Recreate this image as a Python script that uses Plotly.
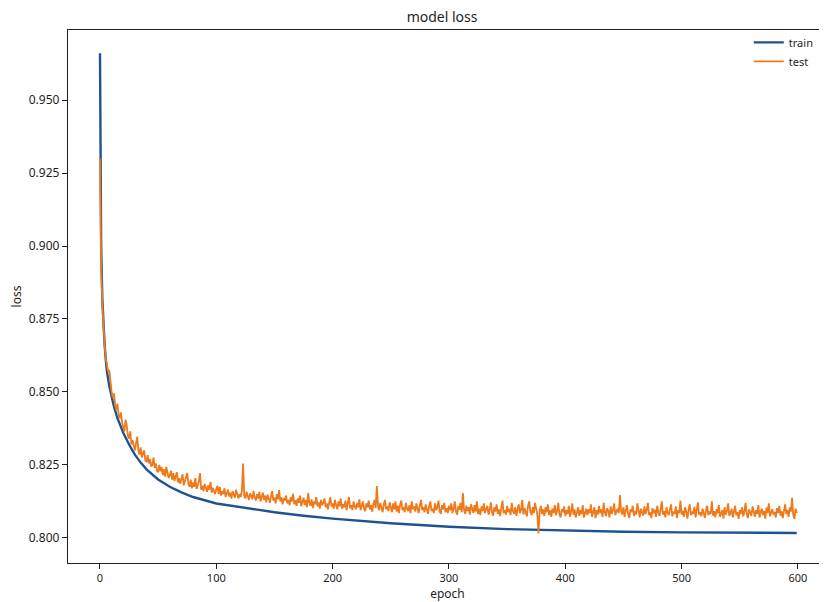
import plotly.graph_objects as go

# ---- data ----
train_epochs = [0, 1, 2, 3, 4, 5, 6, 8, 10, 12, 15, 20, 25, 30, 35, 40, 50, 60, 70, 80, 100,
                125, 150, 175, 200, 250, 300, 350, 400, 450, 500, 550, 599]
train_loss = [0.9660, 0.9000, 0.8820, 0.8720, 0.8660, 0.8610, 0.8570, 0.8520, 0.8480, 0.8450,
              0.8410, 0.8360, 0.8320, 0.8285, 0.8258, 0.8235, 0.8200, 0.8175, 0.8156, 0.8140,
              0.8118, 0.8102, 0.8088, 0.8076, 0.8066, 0.8050, 0.8038, 0.8030, 0.8025, 0.8021,
              0.8019, 0.8018, 0.8017]

test_loss = [
    0.9300, 0.8930, 0.8800, 0.8720, 0.8660, 0.8615, 0.8590, 0.8570, 0.8575, 0.8530,
    0.8500, 0.8480, 0.8495, 0.8455, 0.8440, 0.8460, 0.8420, 0.8410, 0.8430, 0.8395,
    0.8380, 0.8365, 0.8405, 0.8385, 0.8350, 0.8340, 0.8365, 0.8320, 0.8335, 0.8310,
    0.8300, 0.8325, 0.8346, 0.8300, 0.8285, 0.8310, 0.8275, 0.8290, 0.8300, 0.8265,
    0.8260, 0.8284, 0.8255, 0.8270, 0.8245, 0.8250, 0.8275, 0.8240, 0.8255, 0.8230,
    0.8225, 0.8250, 0.8228, 0.8243, 0.8215, 0.8235, 0.8210, 0.8243, 0.8220, 0.8205,
    0.8215, 0.8230, 0.8200, 0.8222, 0.8195, 0.8210, 0.8225, 0.8190, 0.8205, 0.8185,
    0.8200, 0.8218, 0.8180, 0.8195, 0.8210, 0.8222, 0.8185, 0.8175, 0.8200, 0.8170,
    0.8190, 0.8175, 0.8205, 0.8168, 0.8180, 0.8195, 0.8222, 0.8165, 0.8178, 0.8160,
    0.8185, 0.8170, 0.8158, 0.8180, 0.8165, 0.8192, 0.8155, 0.8172, 0.8160, 0.8150,
    0.8168, 0.8178, 0.8150, 0.8175, 0.8145, 0.8160, 0.8150, 0.8170, 0.8140, 0.8158,
    0.8165, 0.8142, 0.8155, 0.8135, 0.8160, 0.8148, 0.8138, 0.8165, 0.8145, 0.8135,
    0.8150, 0.8140, 0.8162, 0.8255, 0.8145, 0.8135, 0.8158, 0.8140, 0.8130, 0.8152,
    0.8145, 0.8132, 0.8160, 0.8138, 0.8128, 0.8150, 0.8135, 0.8158, 0.8125, 0.8140,
    0.8155, 0.8130, 0.8145, 0.8122, 0.8148, 0.8135, 0.8120, 0.8142, 0.8160, 0.8128,
    0.8138, 0.8118, 0.8150, 0.8132, 0.8164, 0.8125, 0.8140, 0.8115, 0.8135, 0.8128,
    0.8145, 0.8118, 0.8130, 0.8112, 0.8140, 0.8125, 0.8152, 0.8115, 0.8128, 0.8110,
    0.8135, 0.8120, 0.8145, 0.8108, 0.8125, 0.8138, 0.8112, 0.8130, 0.8105, 0.8154,
    0.8120, 0.8110, 0.8132, 0.8102, 0.8125, 0.8115, 0.8140, 0.8108, 0.8122, 0.8100,
    0.8130, 0.8112, 0.8120, 0.8135, 0.8105, 0.8118, 0.8098, 0.8125, 0.8140, 0.8108,
    0.8118, 0.8100, 0.8130, 0.8112, 0.8098, 0.8125, 0.8108, 0.8135, 0.8100, 0.8115,
    0.8105, 0.8128, 0.8095, 0.8118, 0.8140, 0.8102, 0.8112, 0.8095, 0.8125, 0.8108,
    0.8098, 0.8120, 0.8105, 0.8132, 0.8095, 0.8110, 0.8125, 0.8100, 0.8092, 0.8118,
    0.8105, 0.8128, 0.8098, 0.8112, 0.8090, 0.8115, 0.8130, 0.8102, 0.8178, 0.8110,
    0.8095, 0.8120, 0.8100, 0.8088, 0.8115, 0.8130, 0.8098, 0.8108, 0.8092, 0.8122,
    0.8105, 0.8088, 0.8118, 0.8098, 0.8125, 0.8090, 0.8110, 0.8085, 0.8115, 0.8128,
    0.8095, 0.8105, 0.8088, 0.8120, 0.8100, 0.8092, 0.8112, 0.8085, 0.8125, 0.8098,
    0.8108, 0.8090, 0.8118, 0.8100, 0.8085, 0.8112, 0.8130, 0.8095, 0.8105, 0.8088,
    0.8115, 0.8098, 0.8082, 0.8110, 0.8125, 0.8092, 0.8100, 0.8085, 0.8118, 0.8095,
    0.8105, 0.8128, 0.8090, 0.8082, 0.8112, 0.8098, 0.8120, 0.8088, 0.8102, 0.8085,
    0.8110, 0.8095, 0.8118, 0.8085, 0.8100, 0.8125, 0.8090, 0.8080, 0.8108, 0.8096,
    0.8120, 0.8088, 0.8154, 0.8095, 0.8082, 0.8110, 0.8092, 0.8105, 0.8080, 0.8115,
    0.8098, 0.8085, 0.8112, 0.8090, 0.8125, 0.8082, 0.8100, 0.8078, 0.8108, 0.8092,
    0.8118, 0.8085, 0.8098, 0.8110, 0.8080, 0.8095, 0.8122, 0.8088, 0.8076, 0.8105,
    0.8090, 0.8115, 0.8082, 0.8098, 0.8075, 0.8108, 0.8128, 0.8085, 0.8095, 0.8080,
    0.8110, 0.8088, 0.8100, 0.8078, 0.8120, 0.8092, 0.8082, 0.8105, 0.8075, 0.8098,
    0.8115, 0.8085, 0.8095, 0.8130, 0.8080, 0.8102, 0.8088, 0.8074, 0.8110, 0.8125,
    0.8090, 0.8078, 0.8105, 0.8085, 0.8120, 0.8095, 0.8080, 0.8015, 0.8092, 0.8110,
    0.8082, 0.8098, 0.8075, 0.8105, 0.8088, 0.8115, 0.8078, 0.8095, 0.8072, 0.8100,
    0.8085, 0.8112, 0.8078, 0.8092, 0.8120, 0.8080, 0.8070, 0.8098, 0.8088, 0.8108,
    0.8075, 0.8095, 0.8082, 0.8110, 0.8072, 0.8090, 0.8118, 0.8080, 0.8098, 0.8070,
    0.8088, 0.8105, 0.8076, 0.8095, 0.8082, 0.8112, 0.8070, 0.8092, 0.8100, 0.8078,
    0.8098, 0.8085, 0.8115, 0.8072, 0.8090, 0.8105, 0.8068, 0.8095, 0.8080, 0.8110,
    0.8085, 0.8098, 0.8072, 0.8120, 0.8088, 0.8075, 0.8102, 0.8092, 0.8070, 0.8108,
    0.8082, 0.8095, 0.8118, 0.8078, 0.8090, 0.8100, 0.8085, 0.8147, 0.8092, 0.8080,
    0.8105, 0.8072, 0.8095, 0.8112, 0.8082, 0.8068, 0.8098, 0.8088, 0.8110, 0.8075,
    0.8092, 0.8080, 0.8118, 0.8085, 0.8070, 0.8100, 0.8090, 0.8076, 0.8108, 0.8082,
    0.8095, 0.8120, 0.8078, 0.8088, 0.8068, 0.8102, 0.8085, 0.8096, 0.8072, 0.8110,
    0.8088, 0.8075, 0.8100, 0.8125, 0.8080, 0.8092, 0.8070, 0.8105, 0.8086, 0.8078,
    0.8098, 0.8115, 0.8074, 0.8090, 0.8082, 0.8108, 0.8068, 0.8095, 0.8085, 0.8128,
    0.8080, 0.8092, 0.8072, 0.8105, 0.8088, 0.8066, 0.8098, 0.8115, 0.8078, 0.8090,
    0.8082, 0.8106, 0.8070, 0.8094, 0.8122, 0.8080, 0.8088, 0.8074, 0.8100, 0.8085,
    0.8068, 0.8095, 0.8110, 0.8078, 0.8090, 0.8082, 0.8125, 0.8076, 0.8092, 0.8070,
    0.8098, 0.8084, 0.8112, 0.8072, 0.8088, 0.8095, 0.8066, 0.8105, 0.8080, 0.8092,
    0.8118, 0.8075, 0.8086, 0.8100, 0.8070, 0.8092, 0.8110, 0.8078, 0.8088, 0.8065,
    0.8095, 0.8082, 0.8105, 0.8074, 0.8090, 0.8120, 0.8080, 0.8068, 0.8098, 0.8086,
    0.8075, 0.8108, 0.8090, 0.8072, 0.8095, 0.8082, 0.8112, 0.8070, 0.8088, 0.8100,
    0.8078, 0.8092, 0.8066, 0.8104, 0.8085, 0.8118, 0.8074, 0.8090, 0.8098, 0.8080,
    0.8088, 0.8070, 0.8102, 0.8085, 0.8110, 0.8076, 0.8092, 0.8068, 0.8100, 0.8115,
    0.8082, 0.8095, 0.8072, 0.8105, 0.8090, 0.8137, 0.8078, 0.8065, 0.8100, 0.8085,
]
test_epochs = list(range(len(test_loss)))

x_ticks = [0, 100, 200, 300, 400, 500, 600]
y_ticks = [0.800, 0.825, 0.850, 0.875, 0.900, 0.925, 0.950]
y_tick_labels = ["0.800", "0.825", "0.850", "0.875", "0.900", "0.925", "0.950"]

FONT = "Noto Sans"
TXT = "#1e1e1e"

fig = go.Figure()
fig.add_trace(go.Scatter(x=train_epochs, y=train_loss, mode="lines", name="train",
                         line=dict(color="#1f5390", width=2.4)))
fig.add_trace(go.Scatter(x=test_epochs, y=test_loss, mode="lines", name="test",
                         line=dict(color="#ef7a1c", width=1.8)))

axis_common = dict(showgrid=False, zeroline=False, showline=True, linecolor="#202020",
                   linewidth=1.4, ticks="outside", ticklen=5, tickwidth=1.2,
                   tickcolor="#202020", automargin=False)

# the page body adds an 8px offset, so the figure is sized to fill the rest of the window
fig.update_layout(
    width=819, height=594,
    paper_bgcolor="white", plot_bgcolor="white",
    margin=dict(l=60, r=0, t=22, b=39, autoexpand=False),
    title=dict(text="model loss", x=0.53, xanchor="center", y=0.985, yanchor="middle",
               font=dict(family=FONT, size=14, color=TXT)),
    xaxis=dict(range=[-27.5, 625], tickvals=x_ticks, mirror=True,
               tickfont=dict(family=FONT, size=11, color=TXT),
               title=dict(text="epoch", font=dict(family=FONT, size=12, color=TXT)),
               **axis_common),
    yaxis=dict(range=[0.7914, 0.9740], tickvals=y_ticks, ticktext=y_tick_labels,
               tickfont=dict(family=FONT, size=12, color=TXT),
               title=dict(text="loss", font=dict(family=FONT, size=12, color=TXT)),
               **axis_common),
    showlegend=True,
    legend=dict(x=0.897, xanchor="left", y=1.004, yanchor="top", bgcolor="rgba(255,255,255,0)",
                font=dict(family=FONT, size=11, color=TXT), tracegroupgap=0, itemwidth=30),
)

fig.write_html("out.html")
